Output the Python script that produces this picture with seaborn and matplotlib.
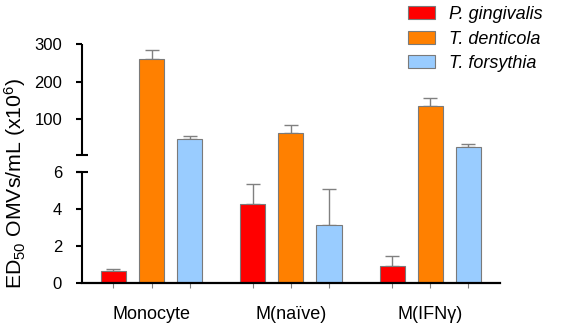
import numpy as np
import pandas as pd
import matplotlib
matplotlib.use("Agg")
import matplotlib.pyplot as plt
from matplotlib.patches import Patch
import seaborn as sns

# data
cells = ["Monocyte", "M(naïve)", "M(IFNγ)"]
species = ["P. gingivalis", "T. denticola", "T. forsythia"]
p_ging = [0.63, 4.27, 0.9]
p_ging_err = [0.11, 1.07, 0.54]
t_dent = [259, 63, 136]
t_dent_err = [25, 22, 20]
t_fors = [48.5, 3.12, 26.5]
t_fors_err = [8, 1.96, 8.5]
colors = ["#FF0000", "#FF8000", "#99CCFF"]
lower_ticks = [0, 2, 4, 6]
upper_ticks = [100, 200, 300]

df = pd.DataFrame({
    "cell": cells * 3,
    "species": np.repeat(species, 3),
    "value": p_ging + t_dent + t_fors,
    "err": p_ging_err + t_dent_err + t_fors_err,
})

sns.set_style("ticks")
plt.rcParams["font.family"] = ["Liberation Sans", "DejaVu Sans"]
plt.rcParams["mathtext.fontset"] = "custom"
plt.rcParams["mathtext.rm"] = "Liberation Sans"
plt.rcParams["mathtext.it"] = "Liberation Sans:italic"
plt.rcParams["text.color"] = "black"
plt.rcParams["xtick.labelcolor"] = "black"
plt.rcParams["ytick.labelcolor"] = "black"

# broken axis: 0-6 linear, then compressed linear segment up to 300
BREAK = 6
OFF = 6.813
K = 0.02042


def fwd(y):
    y = np.asarray(y, dtype=float)
    return np.where(y <= BREAK, y, OFF + K * y)


def inv(f):
    f = np.asarray(f, dtype=float)
    hi = (f - OFF) / K
    return np.where(f <= BREAK, f, np.where(hi < BREAK, BREAK, hi))


fig = plt.figure(figsize=(5.61, 3.30), dpi=100)
ax = fig.add_axes([0.146, 0.1433, 0.745, 0.7234])
ax.set_yscale("function", functions=(fwd, inv))

sns.barplot(data=df, x="cell", y="value", hue="species", order=cells,
            hue_order=species, palette=colors, saturation=1, width=0.82, gap=0.34,
            errorbar=None, edgecolor="#7a7a7a", linewidth=0.8,
            legend=False, ax=ax, zorder=2)

bar_conts = list(ax.containers)
bar_x = sorted(b.get_x() + b.get_width() / 2 for c in bar_conts for b in c)

# one-sided error bars on top of the bars
for cont, sp in zip(bar_conts, species):
    sub = df[df["species"] == sp].set_index("cell").loc[cells]
    xs = [b.get_x() + b.get_width() / 2 for b in cont]
    ax.errorbar(xs, sub["value"], yerr=[np.zeros(len(xs)), sub["err"]],
                fmt="none", ecolor="#808080", elinewidth=1.0, capsize=4.7,
                capthick=1.0, zorder=1)

ax.set_ylim(0, 300)
ax.set_xlim(-0.5, 2.5)
ax.set_yticks(lower_ticks + upper_ticks)
ax.set_yticklabels([str(t) for t in lower_ticks + upper_ticks])
ax.tick_params(axis="y", length=4.3, width=1.5, color="black", labelsize=12, pad=10)

# x ticks: labels at group centres, small grey ticks under every bar
ax.set_xticks(bar_x, minor=True)
ax.tick_params(axis="x", which="both", length=3.6, width=0.8, color="#808080",
               labelsize=13, pad=13)
ax.set_xlabel("")
ax.set_ylabel("")

for s in ["top", "right", "left"]:
    ax.spines[s].set_visible(False)
ax.spines["bottom"].set_linewidth(1.6)
ax.spines["bottom"].set_color("black")
ax.spines["bottom"].set_zorder(5)

# left spine drawn in two pieces with end caps at the break
yt = ax.get_yaxis_transform()
ax.plot([0, 0], [0, BREAK], transform=yt, color="black", lw=1.5,
        clip_on=False, solid_capstyle="butt", zorder=5)
ax.plot([0, 0], [BREAK + 0.01, 300], transform=yt, color="black", lw=1.5,
        clip_on=False, solid_capstyle="butt", zorder=5)
ax.plot([0, 0], [BREAK, BREAK + 0.01], transform=yt, color="black", lw=0,
        marker="_", ms=9, mew=1.5, clip_on=False, zorder=5)

fig.text(15 / 561, 1 - 183 / 330, "ED$_{50}$ OMVs/mL (x10$^{6}$)",
         rotation=90, ha="center", va="center", fontsize=15.3)

handles = [Patch(facecolor=c, edgecolor="#7a7a7a", linewidth=0.8) for c in colors]
fig.legend(handles, species, loc="upper left", bbox_to_anchor=(408 / 561, 1 - 6 / 330),
           frameon=False, borderpad=0, borderaxespad=0, handlelength=1.5,
           handleheight=0.72, handletextpad=0.75, labelspacing=0.42,
           prop={"style": "italic", "size": 13})

fig.savefig("out.png", dpi=100)
